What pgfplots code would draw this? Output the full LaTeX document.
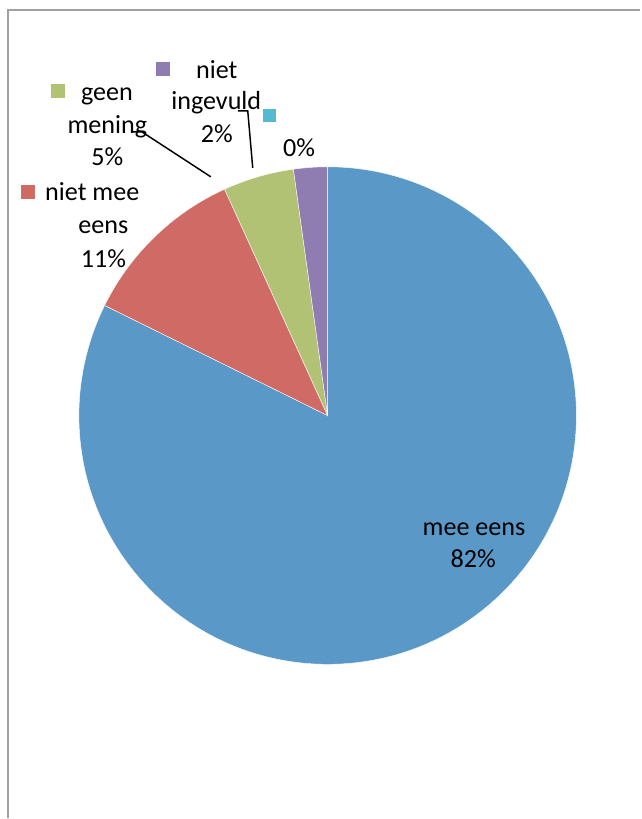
\documentclass[border=0pt]{standalone}
\usepackage{pgfplots}
\usepackage{pgfplotstable}
\usepackage{fontspec}
\setmainfont{Carlito}
\pgfplotsset{compat=1.18}

\definecolor{cBlue}{HTML}{5A98C8}
\definecolor{cRed}{HTML}{CF6B64}
\definecolor{cGreen}{HTML}{B1C274}
\definecolor{cPurple}{HTML}{8F7DB1}
\definecolor{cCyan}{HTML}{55BAD1}
\definecolor{frame}{HTML}{A0A0A0}

% share of each slice (percent), clockwise from 12 o'clock
\pgfplotstableread{
value colour
82.3  cBlue
10.9  cRed
4.6   cGreen
2.2   cPurple
0.0   cCyan
}\piedata

\begin{document}
\begin{tikzpicture}[lbl/.style={font=\fontsize{19.6}{24}\selectfont, inner sep=0pt}]
\begin{axis}[
  x=0.75pt, y=0.75pt,
  xmin=0, xmax=641, ymin=0, ymax=819,
  axis line style={draw=none},
  ticks=none,
  clip=false,
]
% frame of the chart area
\addplot[frame, line width=1.3pt, mark=none] coordinates {(8,0) (8,809) (641,809)};

% pie slices
\pgfplotstablegetrowsof{\piedata}
\pgfmathtruncatemacro\lastrow{\pgfplotsretval-1}
\xdef\angA{90}
\foreach \i in {0,...,\lastrow}{
  \pgfplotstablegetelem{\i}{value}\of{\piedata}\let\v\pgfplotsretval
  \pgfplotstablegetelem{\i}{colour}\of{\piedata}\let\c\pgfplotsretval
  \pgfmathsetmacro\angB{\angA-3.6*\v}
  \pgfmathsetmacro\xa{328+249*cos(\angA)}
  \pgfmathsetmacro\ya{403+249*sin(\angA)}
  \ifdim\v pt>0pt
    \edef\cmd{\noexpand\fill[\c, draw=white, line width=0.3pt]
      (axis cs:328,403) -- (axis cs:\xa,\ya)
      arc[start angle=\angA, end angle=\angB, radius=186.75pt] -- cycle;}
    \cmd
  \fi
  \xdef\angA{\angB}
}

% leader lines
\addplot[black, line width=1.1pt, mark=none] coordinates {(133,687) (142,687) (211,642)};
\addplot[black, line width=1.1pt, mark=none] coordinates {(238,708) (248,708) (253,651)};

% legend keys
\addplot[only marks, mark=square*, mark size=4.8pt, cRed] coordinates {(28,627)};
\addplot[only marks, mark=square*, mark size=4.8pt, cGreen] coordinates {(58,728.5)};
\addplot[only marks, mark=square*, mark size=4.8pt, cPurple] coordinates {(163,750.5)};
\addplot[only marks, mark=square*, mark size=4.8pt, cCyan] coordinates {(269.5,703.5)};

% data labels
\node[lbl, anchor=base west] at (axis cs:45,618) {niet mee};
\node[lbl, anchor=base] at (axis cs:103.5,585.7) {eens};
\node[lbl, anchor=base] at (axis cs:103.5,551.7) {11\%};

\node[lbl, anchor=base] at (axis cs:107,718.3) {geen};
\node[lbl, anchor=base] at (axis cs:107.5,685.7) {mening};
\node[lbl, anchor=base] at (axis cs:107.5,653.3) {5\%};

\node[lbl, anchor=base] at (axis cs:217,740.7) {niet};
\node[lbl, anchor=base] at (axis cs:216.5,709) {ingevuld};
\node[lbl, anchor=base] at (axis cs:217,676.3) {2\%};

\node[lbl, anchor=base] at (axis cs:299.5,662.3) {0\%};

\node[lbl, anchor=base] at (axis cs:474.5,283.3) {mee eens};
\node[lbl, anchor=base] at (axis cs:473.7,251.3) {82\%};
\end{axis}
\end{tikzpicture}
\end{document}
